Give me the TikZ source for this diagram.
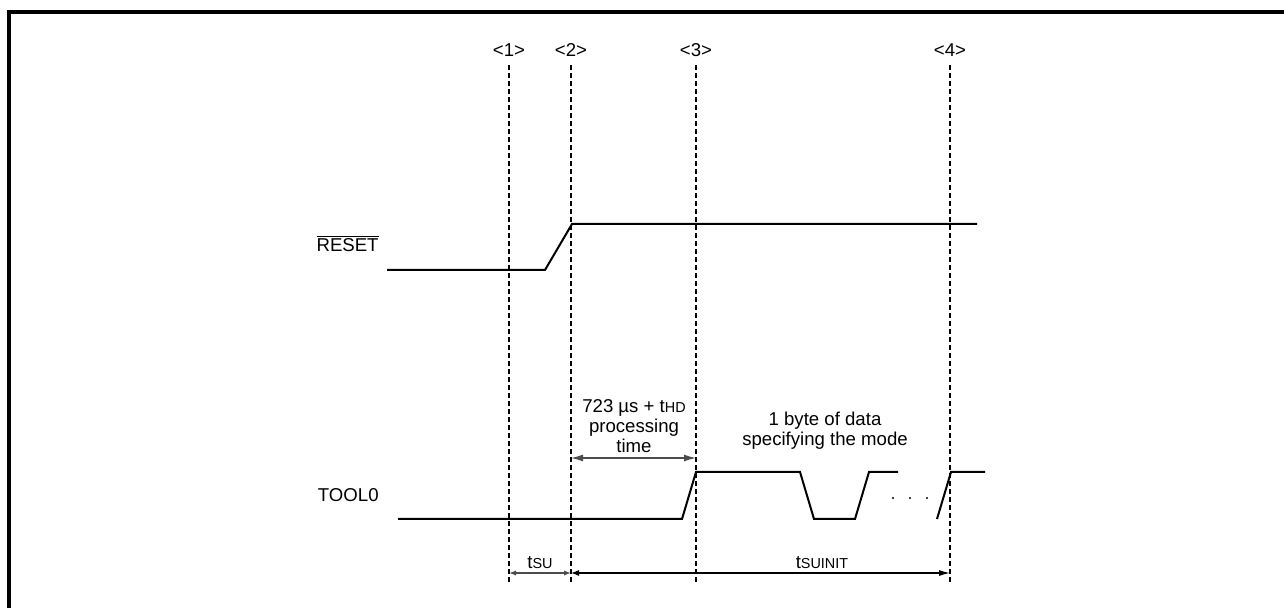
\documentclass[tikz,border=0pt]{standalone}
\usepackage{fontspec}
\setmainfont{Liberation Sans}
\usepackage{tikz}
\usetikzlibrary{arrows.meta,positioning,calc}

\newcommand{\tsub}[1]{t{\fontsize{7.2}{7.2}\selectfont #1}}

\begin{document}
\begin{tikzpicture}[x=0.5pt, y=-0.5pt,
  wave/.style={line width=1pt},
  guide/.style={dash pattern=on 2.5pt off 1.5pt, line width=0.6pt},
  dim/.style={{Latex[length=6pt,width=3.5pt]}-{Latex[length=6pt,width=3.5pt]}, line width=0.6pt},
  lbl/.style={font=\fontsize{9.3}{10}\selectfont, inner sep=0pt, align=center, anchor=base}]
  \useasboundingbox (0,0) rectangle (1284,608);
  % frame, only its top and left edges show
  \draw[line width=1.6pt] (1284,12) -- (9,12) -- (9,608);

  % timing markers
  \foreach \i/\x in {1/509, 2/571, 3/696, 4/950} {
    \node[lbl] (m\i) at (\x,57) {<\i>};
    \coordinate (t\i) at (\x,65);
    \coordinate (b\i) at (\x,583);
    \draw[guide] (t\i) -- (b\i);
  }

  % RESET
  \node[lbl, anchor=base east] (reset) at (379,252) {$\overline{\mbox{RESET}}$};
  \draw[wave] (387,270) -- (545,270) -- (572,224) -- (977,224);

  % TOOL0
  \node[lbl, anchor=base east] (tool) at (379,502) {TOOL0};
  \draw[wave] (398,519) -- (682,519) -- (696,472) -- (800,472) -- (814,519)
    -- (855,519) -- (869,472) -- (898,472);
  \draw[wave] (937,519) -- (951,472) -- (985,472);
  \foreach \x in {893, 910, 927}
    \fill (\x,498) circle (1.2);

  % processing time (base = last line)
  \node[lbl] (proc) at (634,453) {723 µs + \tsub{HD}\\processing\\time};
  \coordinate (p2) at (571,458);
  \coordinate (p3) at (696,458);
  \draw[dim, draw=black!70] (p2) -- (p3);

  % mode byte
  \node[lbl] (mode) at (825,446) {1 byte of data\\specifying the mode};

  % bottom timings
  \coordinate (s1) at (509,573);
  \coordinate (s2) at (571,573);
  \coordinate (s4) at (950,573);
  \draw[{Latex[length=3.5pt,width=2.6pt]}-{Latex[length=3.5pt,width=2.6pt]}, line width=0.6pt, draw=black!70] (s1) -- (s2);
  \draw[{Latex[length=4pt,width=3pt]}-{Latex[length=5.5pt,width=3pt]}, line width=0.6pt] (s2) -- (s4);
  \node[lbl] (tsu) at (540,568) {\tsub{SU}};
  \node[lbl] (tsuinit) at (822,568) {\tsub{SUINIT}};
\end{tikzpicture}
\end{document}
